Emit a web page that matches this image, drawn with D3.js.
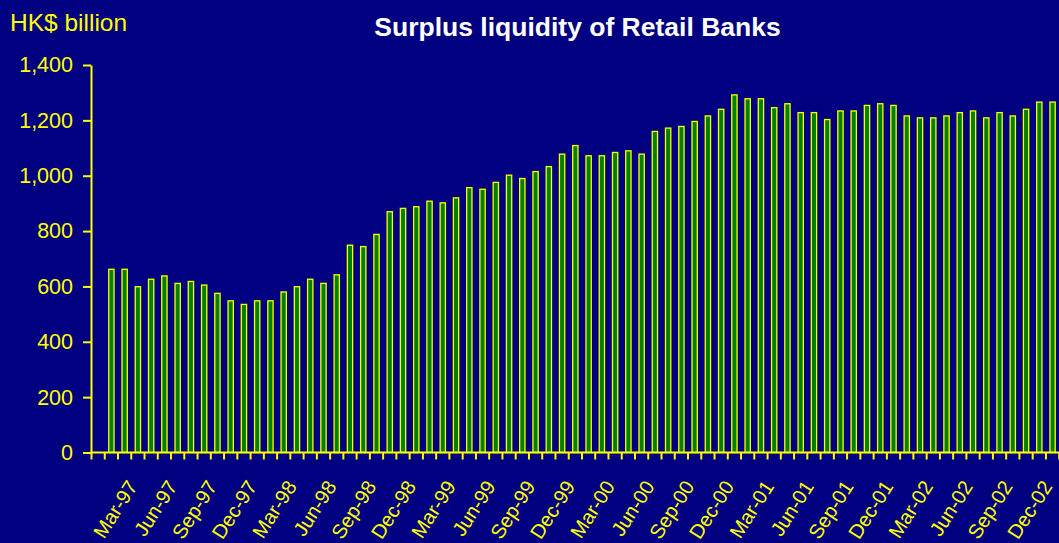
<!DOCTYPE html>
<html>
<head>
<meta charset="utf-8">
<script src="https://cdn.jsdelivr.net/npm/d3@7"></script>
<style>
  html, body { margin: 0; padding: 0; background: #000080; overflow: hidden; }
  svg { display: block; }
  text { font-family: "Liberation Sans", Arial, sans-serif; }
</style>
</head>
<body>
<svg id="chart" width="1059" height="543"></svg>
<script>
// ---- Data ----
const categories = [
  "Jan-97","Feb-97","Mar-97","Apr-97","May-97","Jun-97","Jul-97","Aug-97","Sep-97","Oct-97","Nov-97","Dec-97",
  "Jan-98","Feb-98","Mar-98","Apr-98","May-98","Jun-98","Jul-98","Aug-98","Sep-98","Oct-98","Nov-98","Dec-98",
  "Jan-99","Feb-99","Mar-99","Apr-99","May-99","Jun-99","Jul-99","Aug-99","Sep-99","Oct-99","Nov-99","Dec-99",
  "Jan-00","Feb-00","Mar-00","Apr-00","May-00","Jun-00","Jul-00","Aug-00","Sep-00","Oct-00","Nov-00","Dec-00",
  "Jan-01","Feb-01","Mar-01","Apr-01","May-01","Jun-01","Jul-01","Aug-01","Sep-01","Oct-01","Nov-01","Dec-01",
  "Jan-02","Feb-02","Mar-02","Apr-02","May-02","Jun-02","Jul-02","Aug-02","Sep-02","Oct-02","Nov-02","Dec-02"
];
const surplusLiquidity = [
  662, 662, 599, 626, 638, 611, 618, 605, 575, 548, 535, 548,
  548, 580, 599, 626, 611, 642, 749, 744, 788, 870, 882, 888,
  908, 902, 920, 957, 951, 976, 1002, 990, 1015, 1033, 1078, 1109,
  1072, 1072, 1084, 1090, 1078, 1160, 1172, 1178, 1196, 1216, 1240, 1292,
  1278, 1278, 1246, 1260, 1228, 1228, 1203, 1234, 1234, 1254, 1260, 1254,
  1216, 1209, 1209, 1216, 1228, 1234, 1209, 1228, 1216, 1240, 1266, 1266
];
const xTickLabels = [
  "Mar-97","Jun-97","Sep-97","Dec-97","Mar-98","Jun-98","Sep-98","Dec-98",
  "Mar-99","Jun-99","Sep-99","Dec-99","Mar-00","Jun-00","Sep-00","Dec-00",
  "Mar-01","Jun-01","Sep-01","Dec-01","Mar-02","Jun-02","Sep-02","Dec-02"
];
const yTicks = [0, 200, 400, 600, 800, 1000, 1200, 1400];
const titleText = "Surplus liquidity of Retail Banks";
const unitText = "HK$ billion";

// ---- Layout ----
const svg = d3.select("#chart");
const plotLeft = 91.5, plotRight = 1059.2, plotTop = 65, plotBottom = 452.5;
const YELLOW = "#ffff00", GREEN = "#008000";

svg.append("rect").attr("width", 1059).attr("height", 543).attr("fill", "#000080");

// leading empty slot before the first month
const domain = [""].concat(categories);
const x = d3.scaleBand().domain(domain).range([plotLeft, plotRight])
  .paddingInner(0.6).paddingOuter(0.3);
const step = x.step();
const y = d3.scaleLinear().domain([0, 1400]).range([plotBottom, plotTop]);

// bars
svg.append("g").selectAll("rect")
  .data(categories.map((c, i) => ({ c, v: surplusLiquidity[i] })))
  .join("rect")
  .attr("x", d => x(d.c))
  .attr("width", x.bandwidth())
  .attr("y", d => y(d.v))
  .attr("height", d => y(0) - y(d.v))
  .attr("fill", GREEN)
  .attr("stroke", YELLOW)
  .attr("stroke-width", 1.3);

// y axis
const yAxis = d3.axisLeft(y).tickValues(yTicks).tickFormat(d3.format(",")).tickSize(8).tickSizeOuter(0).tickPadding(10);
const gy = svg.append("g").attr("transform", `translate(${plotLeft - 0.5},0)`).call(yAxis);
gy.select(".domain").attr("stroke", YELLOW).attr("stroke-width", 2);
gy.selectAll(".tick line").attr("stroke", YELLOW).attr("stroke-width", 2);
gy.selectAll(".tick text").attr("fill", YELLOW).attr("font-size", "21.5px")
  .attr("font-family", "'Liberation Sans', Arial, sans-serif");

// x axis line and ticks at slot boundaries
const gx = svg.append("g");
const boundaries = domain.map(d => x(d) - step * 0.3).concat([plotRight]);
gx.selectAll("line.tick").data(boundaries).join("line")
  .attr("class", "tick")
  .attr("x1", d => d).attr("x2", d => d)
  .attr("y1", plotBottom).attr("y2", plotBottom + 7)
  .attr("stroke", YELLOW).attr("stroke-width", 2);
gx.append("line")
  .attr("x1", plotLeft - 1.5).attr("x2", plotRight + 5)
  .attr("y1", plotBottom).attr("y2", plotBottom)
  .attr("stroke", YELLOW).attr("stroke-width", 2);

// x labels
gx.selectAll("text").data(xTickLabels).join("text")
  .attr("transform", d => `translate(${x(d) + x.bandwidth() / 2 + 0.5},${plotBottom + 34}) rotate(-57)`)
  .attr("text-anchor", "end")
  .attr("fill", YELLOW)
  .attr("font-size", "20px")
  .text(d => d);

// title and unit
svg.append("text").attr("x", 577.5).attr("y", 36).attr("text-anchor", "middle")
  .attr("fill", "#ffffff").attr("font-weight", "bold").attr("font-size", "26.5px").text(titleText);
svg.append("text").attr("x", 10).attr("y", 30.5)
  .attr("fill", YELLOW).attr("font-size", "24.5px").text(unitText);
</script>
</body>
</html>
